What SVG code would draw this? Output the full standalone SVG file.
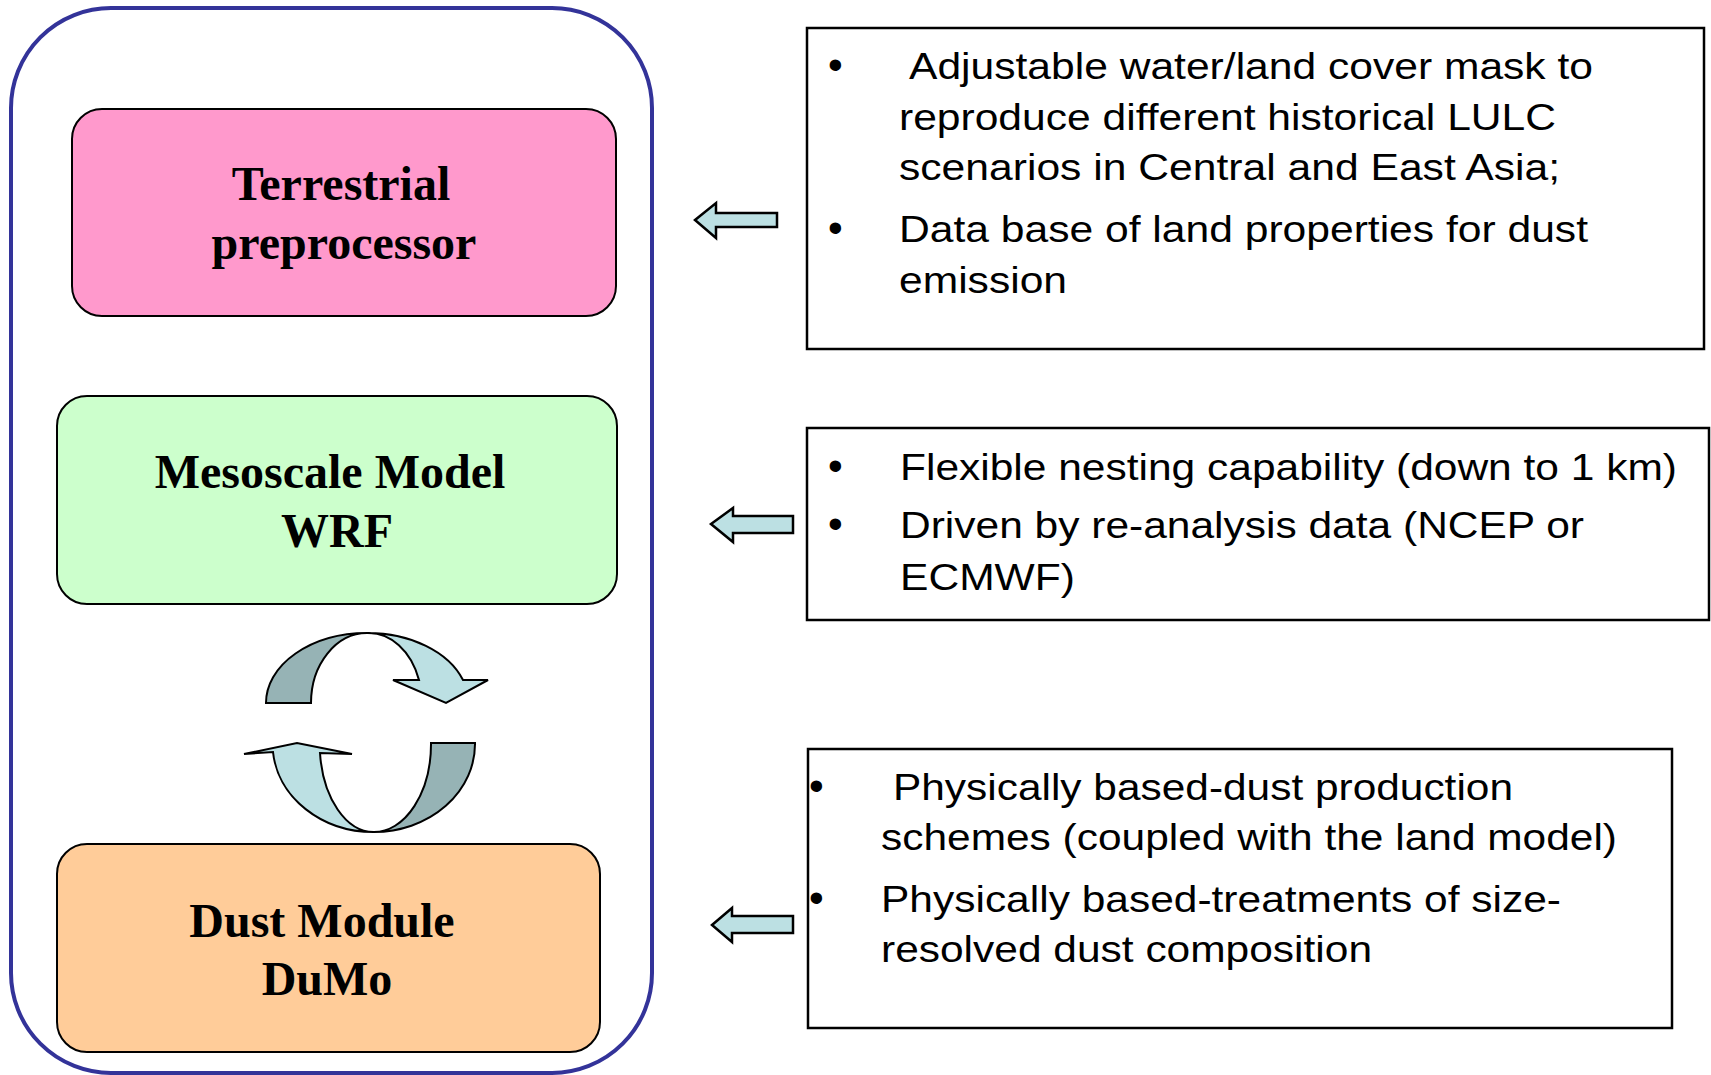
<svg xmlns="http://www.w3.org/2000/svg" width="1711" height="1075" viewBox="0 0 1711 1075">
<style>
.node{stroke:#000;stroke-width:2}
.ttl{font-family:"Liberation Serif","Times New Roman",serif;font-weight:bold;font-size:48px;fill:#000;text-anchor:middle}
.box{fill:#fff;stroke:#000;stroke-width:2.5}
.txt{font-family:"Liberation Sans",Arial,sans-serif;font-size:36px;fill:#000}
.bul{font-family:"Liberation Sans",Arial,sans-serif;font-size:42px;fill:#000}
.blk{fill:#BCE0E3;stroke:#000;stroke-width:2.5;stroke-linejoin:miter}
.lt{fill:#BCE0E3;stroke:#000;stroke-width:2}
.dk{fill:#96B3B5;stroke:#000;stroke-width:2}
</style>
<rect width="1711" height="1075" fill="#fff"/>
<g id="container">
<rect x="11" y="8" width="641" height="1065" rx="100" ry="100" fill="none" stroke="#333399" stroke-width="4"/>
</g>
<g id="terrestrial">
<rect class="node" x="72" y="109" width="544" height="207" rx="30" ry="30" fill="#FF99CC"/>
<text class="ttl" x="341" y="200">Terrestrial</text>
<text class="ttl" x="344" y="259">preprocessor</text>
</g>
<g id="wrf">
<rect class="node" x="57" y="396" width="560" height="208" rx="30" ry="30" fill="#CCFFCC"/>
<text class="ttl" x="330" y="488">Mesoscale Model</text>
<text class="ttl" x="337" y="547">WRF</text>
</g>
<g id="dumo">
<rect class="node" x="57" y="844" width="543" height="208" rx="30" ry="30" fill="#FFCC99"/>
<text class="ttl" x="322" y="937">Dust Module</text>
<text class="ttl" x="327" y="995">DuMo</text>
</g>
<g id="note-terrestrial">
<rect class="box" x="807" y="28" width="897" height="321"/>
<text class="bul" x="828" y="79">•</text>
<text class="txt" x="909" y="79" textLength="684" lengthAdjust="spacingAndGlyphs">Adjustable water/land cover mask to</text>
<text class="txt" x="899" y="130" textLength="657" lengthAdjust="spacingAndGlyphs">reproduce different historical LULC</text>
<text class="txt" x="899" y="180" textLength="661" lengthAdjust="spacingAndGlyphs">scenarios in Central and East Asia;</text>
<text class="bul" x="828" y="242">•</text>
<text class="txt" x="899" y="242" textLength="689" lengthAdjust="spacingAndGlyphs">Data base of land properties for dust</text>
<text class="txt" x="899" y="293" textLength="168" lengthAdjust="spacingAndGlyphs">emission</text>
</g>
<g id="note-wrf">
<rect class="box" x="807" y="428" width="902" height="192"/>
<text class="bul" x="828" y="480">•</text>
<text class="txt" x="900" y="480" textLength="777" lengthAdjust="spacingAndGlyphs">Flexible nesting capability (down to 1 km)</text>
<text class="bul" x="828" y="538">•</text>
<text class="txt" x="900" y="538" textLength="684" lengthAdjust="spacingAndGlyphs">Driven by re-analysis data (NCEP or</text>
<text class="txt" x="900" y="590" textLength="175" lengthAdjust="spacingAndGlyphs">ECMWF)</text>
</g>
<g id="note-dumo">
<rect class="box" x="808" y="749" width="864" height="279"/>
<text class="bul" x="809" y="800">•</text>
<text class="txt" x="893" y="800" textLength="620" lengthAdjust="spacingAndGlyphs">Physically based-dust production</text>
<text class="txt" x="881" y="850" textLength="736" lengthAdjust="spacingAndGlyphs">schemes (coupled with the land model)</text>
<text class="bul" x="809" y="912">•</text>
<text class="txt" x="881" y="912" textLength="680" lengthAdjust="spacingAndGlyphs">Physically based-treatments of size-</text>
<text class="txt" x="881" y="962" textLength="491" lengthAdjust="spacingAndGlyphs">resolved dust composition</text>
</g>
<g id="connectors">
<path class="blk" d="M695,220 L716,203 L716,213 L777,213 L777,227 L716,227 L716,238 Z"/>
<path class="blk" d="M711,524 L733,508 L733,516 L793,516 L793,533 L733,533 L733,542 Z"/>
<path class="blk" d="M712,925 L732,908 L732,916 L793,916 L793,933 L732,933 L732,942 Z"/>
<path class="dk" d="M266,703 A101,70 0 0,1 367,633 A56,70 0 0,0 311,703 Z"/>
<path class="lt" d="M367,633 A101,70 0 0,1 463,680 L488,680 L446,703 L393,680 L419,680 A53,70 0 0,0 367,633 Z"/>
<path class="dk" d="M475,743 A101,88 0 0,1 374,832 A57,88 0 0,0 431,743 Z"/>
<path class="lt" d="M374,832 A101,88 0 0,1 273,752 L244,754 L297,743 L352,754 L320,753 A54,88 0 0,0 374,832 Z"/>
</g>
</svg>
